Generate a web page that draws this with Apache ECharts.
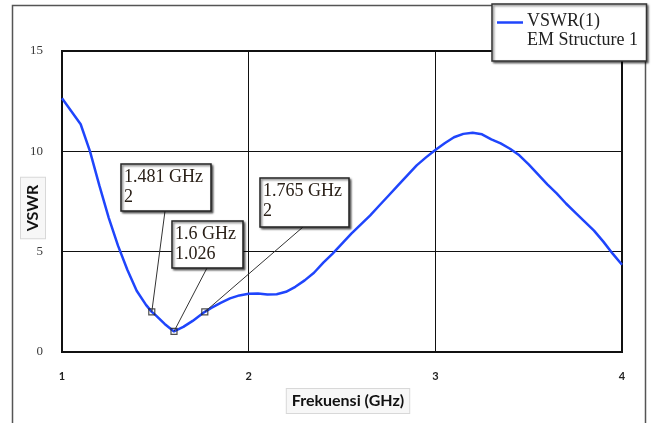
<!DOCTYPE html>
<html>
<head>
<meta charset="utf-8">
<script src="https://cdn.jsdelivr.net/npm/echarts@6/dist/echarts.min.js"></script>
<style>
  html, body { margin: 0; padding: 0; background: #fff; }
  #chart { width: 654px; height: 423px; }
</style>
</head>
<body>
<div id="chart"></div>
<script>
// Frequency sweep (GHz) and VSWR of EM Structure 1
const freqGHz = [1.00, 1.05, 1.10, 1.15, 1.20, 1.25, 1.30, 1.35, 1.40, 1.45, 1.481, 1.50, 1.55, 1.60,
  1.65, 1.70, 1.765, 1.80, 1.85, 1.90, 1.95, 2.00, 2.05, 2.10, 2.15, 2.20, 2.25, 2.30, 2.35, 2.40,
  2.45, 2.50, 2.55, 2.60, 2.65, 2.70, 2.75, 2.80, 2.85, 2.90, 2.95, 3.00, 3.05, 3.10, 3.15, 3.20,
  3.25, 3.30, 3.35, 3.40, 3.45, 3.50, 3.55, 3.60, 3.65, 3.70, 3.75, 3.80, 3.85, 3.90, 3.95, 4.00];
const vswr = [12.65, 12.0, 11.35, 10.0, 8.3, 6.7, 5.3, 4.1, 3.05, 2.35, 2.0, 1.85, 1.4, 1.026,
  1.25, 1.55, 2.0, 2.2, 2.45, 2.67, 2.82, 2.9, 2.92, 2.87, 2.88, 3.0, 3.25, 3.57, 3.95, 4.45,
  4.9, 5.4, 5.9, 6.35, 6.8, 7.3, 7.8, 8.3, 8.8, 9.3, 9.7, 10.07, 10.4, 10.7, 10.87, 10.93,
  10.85, 10.6, 10.4, 10.13, 9.8, 9.35, 8.85, 8.35, 7.9, 7.4, 6.95, 6.5, 6.05, 5.5, 4.9, 4.35];

// Marker readouts
const markerFreq = [1.481, 1.6, 1.765];
const markerVswr = [2, 1.026, 2];

// Axis ticks
const xTicks = [1, 2, 3, 4];
const yTicks = [0, 5, 10, 15];

const seriesName = 'VSWR(1)';
const seriesSub = 'EM Structure 1';
const xTitle = 'Frekuensi (GHz)';
const yTitle = 'VSWR';

const chart = echarts.init(document.getElementById('chart'), null, { renderer: 'canvas' });

const lineData = freqGHz.map((f, i) => [f, vswr[i]]);
const markerData = markerFreq.map((f, i) => [f, markerVswr[i]]);

const serif = '"Liberation Serif", "Times New Roman", serif';
const sans = 'Lato, "Open Sans", sans-serif';

chart.setOption({
  animation: false,
  grid: {
    left: 62, right: 32, top: 51, bottom: 71,
    show: true, borderColor: '#111', borderWidth: 2, backgroundColor: 'transparent'
  },
  xAxis: {
    type: 'value', min: xTicks[0], max: xTicks[xTicks.length - 1], interval: 1,
    axisLine: { show: true, lineStyle: { color: '#111', width: 2 } },
    axisTick: { show: false },
    splitLine: { show: true, lineStyle: { color: '#111', width: 1 } },
    axisLabel: { margin: 19, fontFamily: sans, fontWeight: 'bold', fontSize: 11, color: '#222' }
  },
  yAxis: {
    type: 'value', min: yTicks[0], max: yTicks[yTicks.length - 1], interval: 5,
    axisLine: { show: true, lineStyle: { color: '#111', width: 2 } },
    axisTick: { show: false },
    splitLine: { show: true, lineStyle: { color: '#111', width: 1 } },
    axisLabel: { margin: 19, fontFamily: serif, fontSize: 13, color: '#3a3a3a' }
  },
  series: [
    {
      name: seriesName, type: 'line', data: lineData, showSymbol: false,
      lineStyle: { color: '#1f45fc', width: 2.5 }, z: 3
    },
    {
      name: 'markers', type: 'scatter', data: markerData, symbol: 'rect', symbolSize: 6,
      itemStyle: { color: 'rgba(255,255,255,0)', borderColor: '#222', borderWidth: 1.2 }, z: 5
    }
  ]
});

// Annotation boxes: [left, top, width, height, leader anchor x]
const boxes = [
  [121, 164, 90, 47, 165],
  [172, 221, 71, 47, 207],
  [260, 178, 89, 49, 303]
];

const graphics = [];

// Outer frame
graphics.push({
  type: 'rect', shape: { x: 12.5, y: 5.5, width: 633, height: 430 },
  style: { fill: 'none', stroke: '#555', lineWidth: 1.5 }, z: 0, silent: true
});

boxes.forEach((b, i) => {
  const p = chart.convertToPixel({ gridIndex: 0 }, markerData[i]);
  graphics.push({
    type: 'line', shape: { x1: b[4], y1: b[1] + b[3], x2: p[0], y2: p[1] },
    style: { stroke: '#333', lineWidth: 1 }, z: 10
  });
  graphics.push({
    type: 'rect', shape: { x: b[0], y: b[1], width: b[2], height: b[3] },
    style: {
      fill: '#fff', stroke: '#222', lineWidth: 1.5,
      shadowBlur: 2, shadowOffsetX: 1.5, shadowOffsetY: 1.5, shadowColor: 'rgba(0,0,0,0.55)'
    }, z: 11
  });
  graphics.push({
    type: 'text', left: b[0] + 3, top: b[1] + 4, z: 12,
    style: {
      text: markerFreq[i] + ' GHz\n' + markerVswr[i],
      font: '18px ' + serif, fill: '#2a2018', lineHeight: 19.5
    }
  });
});

// Legend
graphics.push({
  type: 'rect', shape: { x: 492, y: 4, width: 154.5, height: 57 },
  style: {
    fill: '#fff', stroke: '#333', lineWidth: 1.5,
    shadowBlur: 2, shadowOffsetX: 1.5, shadowOffsetY: 1.5, shadowColor: 'rgba(0,0,0,0.5)'
  }, z: 20
});
graphics.push({
  type: 'line', shape: { x1: 497, y1: 22.5, x2: 523, y2: 22.5 },
  style: { stroke: '#1f45fc', lineWidth: 2.5 }, z: 21
});
graphics.push({
  type: 'text', left: 527, top: 12, z: 21,
  style: { text: seriesName + '\n' + seriesSub, font: '18px ' + serif, fill: '#222', lineHeight: 19 }
});

// Axis titles with light boxes
graphics.push({
  type: 'text', x: 348, y: 401, z: 15,
  style: {
    text: xTitle, font: 'bold 16px ' + sans, fill: '#111',
    align: 'center', verticalAlign: 'middle',
    backgroundColor: '#f7f7f7', borderColor: '#d8d8d8', borderWidth: 1, padding: [4, 5]
  }
});
graphics.push({
  type: 'text', x: 33, y: 208, rotation: Math.PI / 2, z: 15,
  style: {
    text: yTitle, font: 'bold 16px ' + sans, fill: '#111',
    align: 'center', verticalAlign: 'middle',
    backgroundColor: '#f7f7f7', borderColor: '#d8d8d8', borderWidth: 1, padding: [4, 7]
  }
});

chart.setOption({ graphic: graphics });
</script>
</body>
</html>
